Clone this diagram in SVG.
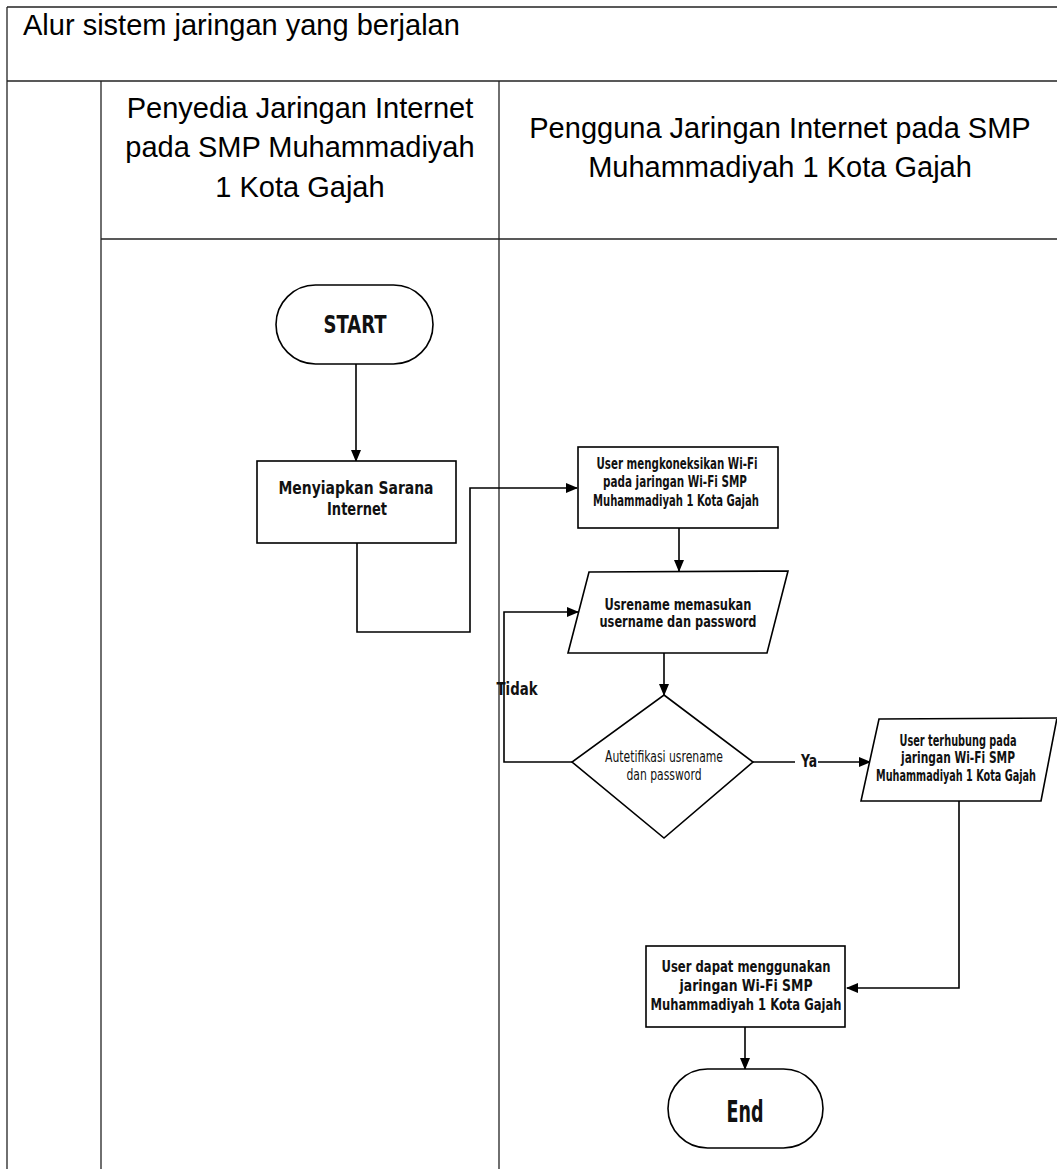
<svg xmlns="http://www.w3.org/2000/svg" width="1057" height="1169" viewBox="0 0 1057 1169">
<style>
.tbl{stroke:#222;stroke-width:1.3;fill:none}
.hd{font-family:"Liberation Sans",Arial,sans-serif;font-size:29px;fill:#000}
.shape{fill:#fff;stroke:#000;stroke-width:1.6}
.ln{fill:none;stroke:#000;stroke-width:1.6}
.fc{font-family:"Liberation Sans Narrow","DejaVu Sans Condensed","Liberation Sans",sans-serif;font-weight:bold;fill:#111;text-anchor:middle}
.fn{font-family:"Liberation Sans Narrow","DejaVu Sans Condensed","Liberation Sans",sans-serif;font-weight:normal;fill:#111;text-anchor:middle}
</style>
<defs>
<marker id="ah" markerWidth="12" markerHeight="10" refX="11" refY="5" orient="auto" markerUnits="userSpaceOnUse">
<path d="M0,0 L12,5 L0,10 Z" fill="#000"/>
</marker>
</defs>
<rect x="0" y="0" width="1057" height="1169" fill="#fff"/>
<g id="table">
<line class="tbl" x1="7" y1="7" x2="1057" y2="7"/>
<line class="tbl" x1="7" y1="7" x2="7" y2="1169"/>
<line class="tbl" x1="7" y1="81" x2="1057" y2="81"/>
<line class="tbl" x1="101" y1="81" x2="101" y2="1169"/>
<line class="tbl" x1="499" y1="81" x2="499" y2="1169"/>
<line class="tbl" x1="101" y1="239" x2="1057" y2="239"/>
<text class="hd" x="23" y="35">Alur sistem jaringan yang berjalan</text>
<text class="hd" text-anchor="middle" x="300" y="118">Penyedia Jaringan Internet</text>
<text class="hd" text-anchor="middle" x="300" y="157">pada SMP Muhammadiyah</text>
<text class="hd" text-anchor="middle" x="300" y="197">1 Kota Gajah</text>
<text class="hd" text-anchor="middle" x="780" y="138">Pengguna Jaringan Internet pada SMP</text>
<text class="hd" text-anchor="middle" x="780" y="177">Muhammadiyah 1 Kota Gajah</text>
</g>
<g id="connectors">
<line class="ln" x1="356" y1="364" x2="356" y2="461" marker-end="url(#ah)"/>
<path class="ln" d="M357 543 V632 H470 V488 H577" marker-end="url(#ah)"/>
<line class="ln" x1="679" y1="528" x2="679" y2="571" marker-end="url(#ah)"/>
<line class="ln" x1="664" y1="653" x2="664" y2="695" marker-end="url(#ah)"/>
<path class="ln" d="M572 762 H504 V612 H578" marker-end="url(#ah)"/>
<line class="ln" x1="753" y1="762" x2="795" y2="762"/>
<line class="ln" x1="818" y1="762" x2="870" y2="762" marker-end="url(#ah)"/>
<path class="ln" d="M959 801 V988 H847" marker-end="url(#ah)"/>
<line class="ln" x1="745" y1="1027" x2="745" y2="1069" marker-end="url(#ah)"/>
<text class="fc" x="517" y="695" font-size="17" textLength="41" lengthAdjust="spacingAndGlyphs">Tidak</text>
<text class="fc" x="809" y="767" font-size="17" textLength="16" lengthAdjust="spacingAndGlyphs">Ya</text>
</g>
<g id="start">
<rect class="shape" x="276" y="285" width="157" height="79" rx="39.5"/>
<text class="fc" x="355" y="333" font-size="24" textLength="63" lengthAdjust="spacingAndGlyphs">START</text>
</g>
<g id="menyiapkan">
<rect class="shape" x="257" y="461" width="199" height="82"/>
<text class="fc" x="356" y="494" font-size="18" textLength="155" lengthAdjust="spacingAndGlyphs">Menyiapkan Sarana</text>
<text class="fc" x="357" y="515" font-size="18" textLength="60" lengthAdjust="spacingAndGlyphs">Internet</text>
</g>
<g id="koneksi">
<rect class="shape" x="578" y="447" width="200" height="81"/>
<text class="fc" x="677" y="469" font-size="15" textLength="161" lengthAdjust="spacingAndGlyphs">User mengkoneksikan Wi-Fi</text>
<text class="fc" x="675" y="487" font-size="15" textLength="144" lengthAdjust="spacingAndGlyphs">pada jaringan Wi-Fi SMP</text>
<text class="fc" x="676" y="506" font-size="15" textLength="166" lengthAdjust="spacingAndGlyphs">Muhammadiyah 1 Kota Gajah</text>
</g>
<g id="input">
<polygon class="shape" points="589,572 788,571 767,653 568,653"/>
<text class="fc" x="678" y="610" font-size="16" textLength="147" lengthAdjust="spacingAndGlyphs">Usrename memasukan</text>
<text class="fc" x="678" y="627" font-size="16" textLength="157" lengthAdjust="spacingAndGlyphs">username dan password</text>
</g>
<g id="autentikasi">
<polygon class="shape" points="664,695 753,762 664,838 572,762"/>
<text class="fn" x="664" y="762" font-size="15" textLength="118" lengthAdjust="spacingAndGlyphs">Autetifikasi usrename</text>
<text class="fn" x="664" y="780" font-size="15" textLength="75" lengthAdjust="spacingAndGlyphs">dan password</text>
</g>
<g id="terhubung">
<polygon class="shape" points="879,719 1057,718 1041,801 861,801"/>
<text class="fc" x="958" y="746" font-size="15" textLength="117" lengthAdjust="spacingAndGlyphs">User terhubung pada</text>
<text class="fc" x="958" y="763" font-size="15" textLength="114" lengthAdjust="spacingAndGlyphs">jaringan Wi-Fi SMP</text>
<text class="fc" x="956" y="781" font-size="15" textLength="160" lengthAdjust="spacingAndGlyphs">Muhammadiyah 1 Kota Gajah</text>
</g>
<g id="menggunakan">
<rect class="shape" x="646" y="946" width="199" height="81"/>
<text class="fc" x="746" y="972" font-size="16" textLength="169" lengthAdjust="spacingAndGlyphs">User dapat menggunakan</text>
<text class="fc" x="746" y="991" font-size="16" textLength="133" lengthAdjust="spacingAndGlyphs">jaringan Wi-Fi SMP</text>
<text class="fc" x="746" y="1010" font-size="16" textLength="191" lengthAdjust="spacingAndGlyphs">Muhammadiyah 1 Kota Gajah</text>
</g>
<g id="end">
<rect class="shape" x="668" y="1069" width="155" height="79" rx="39.5"/>
<text class="fc" x="745" y="1122" font-size="30" textLength="37" lengthAdjust="spacingAndGlyphs">End</text>
</g>
</svg>
